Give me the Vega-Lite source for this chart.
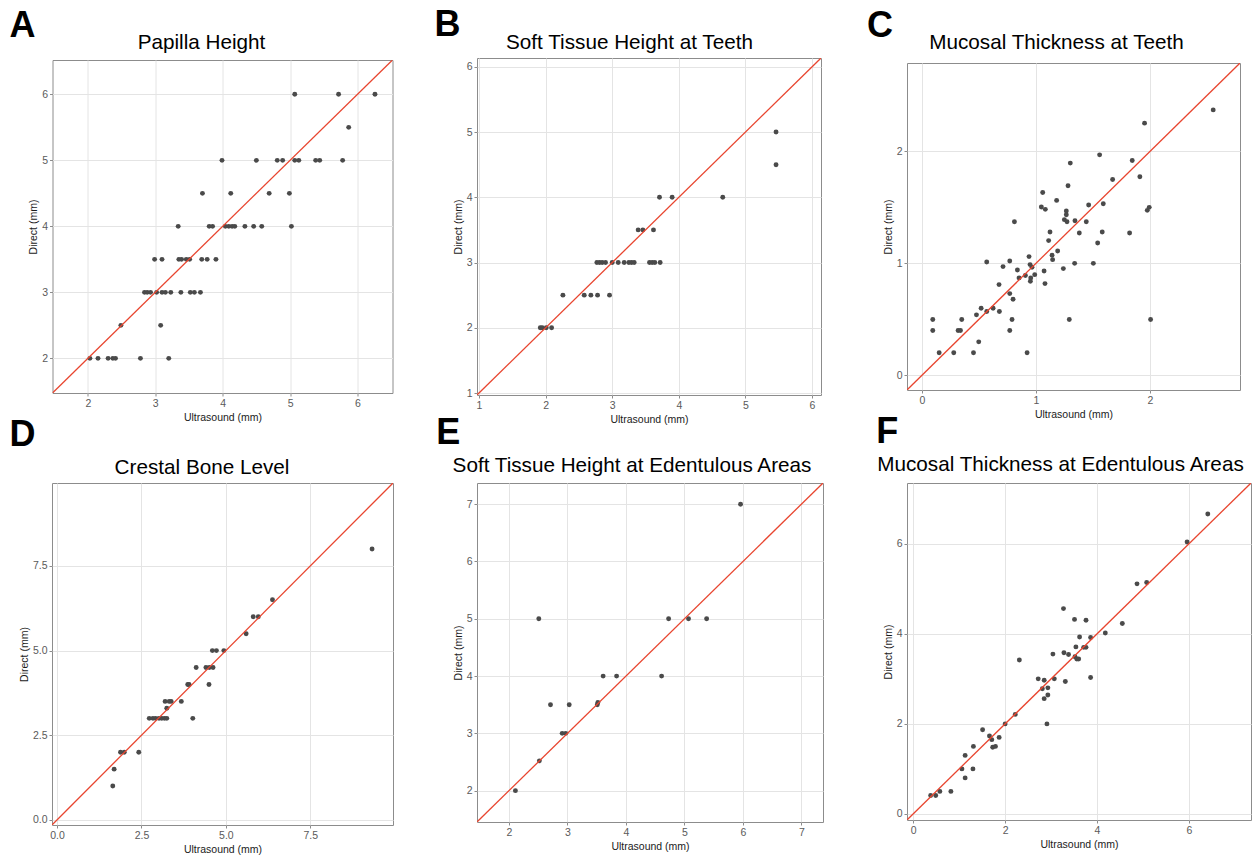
{
  "$schema": "https://vega.github.io/schema/vega-lite/v6.json",
  "padding": {"left": 8, "top": 5, "right": 0, "bottom": 0},
  "background": "white",
  "config": {
    "font": "Liberation Sans",
    "view": {"stroke": "#8c8c8c", "strokeWidth": 1},
    "axis": {"labelFont": "Liberation Sans", "titleFont": "Liberation Sans", "labelFontSize": 10.5, "labelColor": "#5a5a5a", "tickColor": "#8c8c8c", "tickSize": 3, "labelPadding": 2, "titleFontSize": 10.5, "titleFontWeight": "normal", "titleColor": "#1a1a1a", "domain": false, "gridColor": "#e4e4e4", "gridWidth": 1},
    "axisBottom": {"titlePadding": 4},
    "axisLeft": {"titlePadding": 3},
    "axisTop": {"labels": false, "ticks": false, "gridColor": "#ececec", "gridWidth": 0.8, "titleFontSize": 20.7, "titleColor": "#000000", "titleAlign": "center", "titleBaseline": "alphabetic", "titleAngle": 0, "titleFontWeight": "normal"},
    "axisRight": {"labels": false, "ticks": false, "gridColor": "#ececec", "gridWidth": 0.8, "titleFontSize": 36, "titleColor": "#000000", "titleAlign": "left", "titleBaseline": "alphabetic", "titleAngle": 0, "titleFontWeight": "bold"}
  },
  "datasets": {
    "A": [
      {"u": 5.07, "d": 6}, {"u": 5.72, "d": 6}, {"u": 6.26, "d": 6},
      {"u": 5.87, "d": 5.5},
      {"u": 3.99, "d": 5}, {"u": 4.5, "d": 5}, {"u": 4.81, "d": 5}, {"u": 4.89, "d": 5}, {"u": 5.07, "d": 5}, {"u": 5.13, "d": 5}, {"u": 5.38, "d": 5}, {"u": 5.44, "d": 5}, {"u": 5.78, "d": 5},
      {"u": 3.7, "d": 4.5}, {"u": 4.12, "d": 4.5}, {"u": 4.69, "d": 4.5}, {"u": 4.99, "d": 4.5},
      {"u": 3.34, "d": 4}, {"u": 3.8, "d": 4}, {"u": 3.85, "d": 4}, {"u": 4.04, "d": 4}, {"u": 4.09, "d": 4}, {"u": 4.14, "d": 4}, {"u": 4.18, "d": 4}, {"u": 4.33, "d": 4}, {"u": 4.46, "d": 4}, {"u": 4.58, "d": 4}, {"u": 5.02, "d": 4},
      {"u": 2.99, "d": 3.5}, {"u": 3.1, "d": 3.5}, {"u": 3.35, "d": 3.5}, {"u": 3.39, "d": 3.5}, {"u": 3.46, "d": 3.5}, {"u": 3.51, "d": 3.5}, {"u": 3.69, "d": 3.5}, {"u": 3.77, "d": 3.5}, {"u": 3.9, "d": 3.5},
      {"u": 2.84, "d": 3}, {"u": 2.88, "d": 3}, {"u": 2.93, "d": 3}, {"u": 3.02, "d": 3}, {"u": 3.1, "d": 3}, {"u": 3.15, "d": 3}, {"u": 3.23, "d": 3}, {"u": 3.38, "d": 3}, {"u": 3.52, "d": 3}, {"u": 3.58, "d": 3}, {"u": 3.67, "d": 3},
      {"u": 2.49, "d": 2.5}, {"u": 3.08, "d": 2.5},
      {"u": 2.03, "d": 2}, {"u": 2.15, "d": 2}, {"u": 2.3, "d": 2}, {"u": 2.37, "d": 2}, {"u": 2.41, "d": 2}, {"u": 2.78, "d": 2}, {"u": 3.2, "d": 2}
    ],
    "B": [
      {"u": 5.46, "d": 5}, {"u": 5.46, "d": 4.5},
      {"u": 3.71, "d": 4}, {"u": 3.9, "d": 4}, {"u": 4.66, "d": 4},
      {"u": 3.39, "d": 3.5}, {"u": 3.46, "d": 3.5}, {"u": 3.62, "d": 3.5},
      {"u": 2.77, "d": 3}, {"u": 2.81, "d": 3}, {"u": 2.85, "d": 3}, {"u": 2.9, "d": 3}, {"u": 3.0, "d": 3}, {"u": 3.09, "d": 3}, {"u": 3.18, "d": 3}, {"u": 3.25, "d": 3}, {"u": 3.29, "d": 3}, {"u": 3.33, "d": 3}, {"u": 3.56, "d": 3}, {"u": 3.6, "d": 3}, {"u": 3.64, "d": 3}, {"u": 3.72, "d": 3},
      {"u": 2.26, "d": 2.5}, {"u": 2.58, "d": 2.5}, {"u": 2.68, "d": 2.5}, {"u": 2.78, "d": 2.5}, {"u": 2.96, "d": 2.5},
      {"u": 1.92, "d": 2}, {"u": 1.95, "d": 2}, {"u": 2.01, "d": 2}, {"u": 2.09, "d": 2}
    ],
    "C": [
      {"u": 2.555, "d": 2.371}, {"u": 1.953, "d": 2.253}, {"u": 1.559, "d": 1.97}, {"u": 1.302, "d": 1.896}, {"u": 1.845, "d": 1.92},
      {"u": 1.673, "d": 1.75}, {"u": 1.912, "d": 1.774}, {"u": 1.282, "d": 1.694}, {"u": 1.06, "d": 1.634}, {"u": 1.182, "d": 1.563},
      {"u": 1.048, "d": 1.504}, {"u": 1.083, "d": 1.483}, {"u": 1.463, "d": 1.522}, {"u": 1.591, "d": 1.533}, {"u": 1.977, "d": 1.474},
      {"u": 1.994, "d": 1.501}, {"u": 1.267, "d": 1.468}, {"u": 1.267, "d": 1.435}, {"u": 1.25, "d": 1.391}, {"u": 1.273, "d": 1.373},
      {"u": 1.343, "d": 1.382}, {"u": 1.442, "d": 1.373}, {"u": 0.812, "d": 1.373}, {"u": 1.381, "d": 1.272}, {"u": 1.124, "d": 1.281},
      {"u": 1.582, "d": 1.281}, {"u": 1.822, "d": 1.272}, {"u": 1.112, "d": 1.204}, {"u": 1.542, "d": 1.183}, {"u": 1.191, "d": 1.111},
      {"u": 1.142, "d": 1.073}, {"u": 1.147, "d": 1.034}, {"u": 0.569, "d": 1.013}, {"u": 0.771, "d": 1.022}, {"u": 0.94, "d": 1.061},
      {"u": 0.949, "d": 0.99}, {"u": 0.966, "d": 0.966}, {"u": 0.712, "d": 0.972}, {"u": 1.241, "d": 0.954}, {"u": 1.34, "d": 1.001},
      {"u": 1.504, "d": 1.001}, {"u": 0.838, "d": 0.942}, {"u": 1.072, "d": 0.933}, {"u": 0.908, "d": 0.892}, {"u": 0.99, "d": 0.9},
      {"u": 0.955, "d": 0.871}, {"u": 0.853, "d": 0.871}, {"u": 0.952, "d": 0.841}, {"u": 1.08, "d": 0.82}, {"u": 0.677, "d": 0.811},
      {"u": 0.771, "d": 0.731}, {"u": 0.8, "d": 0.681}, {"u": 0.52, "d": 0.6}, {"u": 0.625, "d": 0.6}, {"u": 0.569, "d": 0.571},
      {"u": 0.68, "d": 0.571}, {"u": 0.479, "d": 0.541}, {"u": 0.096, "d": 0.499}, {"u": 0.35, "d": 0.499}, {"u": 0.791, "d": 0.499},
      {"u": 1.293, "d": 0.499}, {"u": 2.006, "d": 0.499}, {"u": 0.096, "d": 0.401}, {"u": 0.318, "d": 0.401}, {"u": 0.339, "d": 0.401},
      {"u": 0.771, "d": 0.401}, {"u": 0.499, "d": 0.3}, {"u": 0.152, "d": 0.202}, {"u": 0.28, "d": 0.202}, {"u": 0.453, "d": 0.202},
      {"u": 0.923, "d": 0.202}
    ],
    "D": [
      {"u": 9.33, "d": 8.0}, {"u": 6.38, "d": 6.5}, {"u": 5.81, "d": 6.0}, {"u": 5.96, "d": 6.0}, {"u": 5.6, "d": 5.5},
      {"u": 4.6, "d": 5.0}, {"u": 4.72, "d": 5.0}, {"u": 4.94, "d": 5.0},
      {"u": 4.12, "d": 4.5}, {"u": 4.41, "d": 4.5}, {"u": 4.51, "d": 4.5}, {"u": 4.62, "d": 4.5},
      {"u": 3.87, "d": 4.0}, {"u": 3.91, "d": 4.0}, {"u": 4.5, "d": 4.0},
      {"u": 3.2, "d": 3.5}, {"u": 3.32, "d": 3.5}, {"u": 3.38, "d": 3.5}, {"u": 3.68, "d": 3.5}, {"u": 3.25, "d": 3.3},
      {"u": 2.73, "d": 3.0}, {"u": 2.84, "d": 3.0}, {"u": 2.92, "d": 3.0}, {"u": 3.02, "d": 3.0}, {"u": 3.1, "d": 3.0}, {"u": 3.18, "d": 3.0}, {"u": 3.25, "d": 3.0}, {"u": 4.02, "d": 3.0},
      {"u": 1.88, "d": 2.0}, {"u": 1.99, "d": 2.0}, {"u": 2.42, "d": 2.0},
      {"u": 1.69, "d": 1.5}, {"u": 1.65, "d": 1.0}
    ],
    "E": [
      {"u": 5.96, "d": 7}, {"u": 2.51, "d": 5}, {"u": 4.73, "d": 5}, {"u": 5.07, "d": 5}, {"u": 5.38, "d": 5},
      {"u": 3.61, "d": 4}, {"u": 3.84, "d": 4}, {"u": 4.61, "d": 4},
      {"u": 2.71, "d": 3.5}, {"u": 3.03, "d": 3.5}, {"u": 3.51, "d": 3.5}, {"u": 3.52, "d": 3.54},
      {"u": 2.91, "d": 3}, {"u": 2.97, "d": 3}, {"u": 2.52, "d": 2.52}, {"u": 2.11, "d": 2}
    ],
    "F": [
      {"u": 6.41, "d": 6.66}, {"u": 5.96, "d": 6.04}, {"u": 4.87, "d": 5.11}, {"u": 5.08, "d": 5.14}, {"u": 3.27, "d": 4.56},
      {"u": 3.51, "d": 4.32}, {"u": 3.76, "d": 4.3}, {"u": 4.55, "d": 4.23}, {"u": 4.18, "d": 4.02}, {"u": 3.62, "d": 3.93},
      {"u": 3.86, "d": 3.92}, {"u": 3.54, "d": 3.71}, {"u": 3.71, "d": 3.7}, {"u": 3.76, "d": 3.7}, {"u": 3.04, "d": 3.55},
      {"u": 3.28, "d": 3.58}, {"u": 3.38, "d": 3.54}, {"u": 3.52, "d": 3.49}, {"u": 3.56, "d": 3.44}, {"u": 3.6, "d": 3.44},
      {"u": 2.31, "d": 3.42}, {"u": 2.72, "d": 3.0}, {"u": 2.85, "d": 2.97}, {"u": 3.07, "d": 3.0}, {"u": 3.86, "d": 3.03},
      {"u": 3.31, "d": 2.94}, {"u": 2.81, "d": 2.78}, {"u": 2.93, "d": 2.8}, {"u": 2.93, "d": 2.64}, {"u": 2.85, "d": 2.56},
      {"u": 2.91, "d": 2.0}, {"u": 2.0, "d": 2.0}, {"u": 2.22, "d": 2.21}, {"u": 1.51, "d": 1.87}, {"u": 1.66, "d": 1.73},
      {"u": 1.71, "d": 1.65}, {"u": 1.87, "d": 1.7}, {"u": 1.73, "d": 1.48}, {"u": 1.79, "d": 1.5}, {"u": 1.31, "d": 1.5},
      {"u": 1.13, "d": 1.3}, {"u": 1.06, "d": 1.0}, {"u": 1.3, "d": 1.0}, {"u": 1.13, "d": 0.8}, {"u": 0.82, "d": 0.5},
      {"u": 0.58, "d": 0.5}, {"u": 0.38, "d": 0.41}, {"u": 0.49, "d": 0.41}
    ]
  },
  "columns": 3,
  "align": "each",
  "center": true,
  "bounds": "flush",
  "spacing": {"row": 88, "column": 84},
  "concat": [
    {
      "width": 340, "height": 333,
      "layer": [
        {"data": {"name": "A"}, "mark": {"type": "circle", "size": 24, "color": "#4a4a4a", "opacity": 1},
         "encoding": {
           "x": {"field": "u", "type": "quantitative", "scale": {"domain": [1.475, 6.52], "nice": false, "zero": false}, "axis": {"orient": "bottom", "values": [2, 3, 4, 5, 6], "title": "Ultrasound (mm)"}},
           "y": {"field": "d", "type": "quantitative", "scale": {"domain": [1.475, 6.52], "nice": false, "zero": false}, "axis": {"orient": "left", "values": [2, 3, 4, 5, 6], "title": "Direct (mm)"}}}},
        {"data": {"values": [{"u": 1.475, "d": 1.475}, {"u": 6.52, "d": 6.52}]}, "mark": {"type": "line", "color": "#e8452f", "strokeWidth": 1.3, "clip": true},
         "encoding": {
           "x": {"field": "u", "type": "quantitative", "axis": {"orient": "top", "values": [1.5, 2.5, 3.5, 4.5, 5.5, 6.5], "title": "Papilla Height", "titleX": 148.5, "titleY": -11.7}},
           "y": {"field": "d", "type": "quantitative", "axis": {"orient": "right", "values": [1.5, 2.5, 3.5, 4.5, 5.5, 6.5], "title": "A", "titleX": -383.5, "titleY": -23.3}}}}
      ],
      "resolve": {"axis": {"x": "independent", "y": "independent"}}
    },
    {
      "width": 344, "height": 337,
      "layer": [
        {"data": {"name": "B"}, "mark": {"type": "circle", "size": 24, "color": "#4a4a4a", "opacity": 1},
         "encoding": {
           "x": {"field": "u", "type": "quantitative", "scale": {"domain": [0.97, 6.135], "nice": false, "zero": false}, "axis": {"orient": "bottom", "values": [1, 2, 3, 4, 5, 6], "title": "Ultrasound (mm)"}},
           "y": {"field": "d", "type": "quantitative", "scale": {"domain": [0.97, 6.135], "nice": false, "zero": false}, "axis": {"orient": "left", "values": [1, 2, 3, 4, 5, 6], "title": "Direct (mm)"}}}},
        {"data": {"values": [{"u": 0.97, "d": 0.97}, {"u": 6.135, "d": 6.135}]}, "mark": {"type": "line", "color": "#e8452f", "strokeWidth": 1.3, "clip": true},
         "encoding": {
           "x": {"field": "u", "type": "quantitative", "axis": {"orient": "top", "values": [1.5, 2.5, 3.5, 4.5, 5.5], "title": "Soft Tissue Height at Teeth", "titleX": 152, "titleY": -9.7}},
           "y": {"field": "d", "type": "quantitative", "axis": {"orient": "right", "values": [1.5, 2.5, 3.5, 4.5, 5.5], "title": "B", "titleX": -387, "titleY": -23}}}}
      ],
      "resolve": {"axis": {"x": "independent", "y": "independent"}}
    },
    {
      "width": 333, "height": 327,
      "layer": [
        {"data": {"name": "C"}, "mark": {"type": "circle", "size": 24, "color": "#4a4a4a", "opacity": 1},
         "encoding": {
           "x": {"field": "u", "type": "quantitative", "scale": {"domain": [-0.13, 2.79], "nice": false, "zero": false}, "axis": {"orient": "bottom", "values": [0, 1, 2], "title": "Ultrasound (mm)"}},
           "y": {"field": "d", "type": "quantitative", "scale": {"domain": [-0.13, 2.79], "nice": false, "zero": false}, "axis": {"orient": "left", "values": [0, 1, 2], "title": "Direct (mm)"}}}},
        {"data": {"values": [{"u": -0.13, "d": -0.13}, {"u": 2.79, "d": 2.79}]}, "mark": {"type": "line", "color": "#e8452f", "strokeWidth": 1.3, "clip": true},
         "encoding": {
           "x": {"field": "u", "type": "quantitative", "axis": {"orient": "top", "values": [0.5, 1.5, 2.5], "title": "Mucosal Thickness at Teeth", "titleX": 149, "titleY": -14.7}},
           "y": {"field": "d", "type": "quantitative", "axis": {"orient": "right", "values": [0.5, 1.5, 2.5], "title": "C", "titleX": -373.5, "titleY": -26.3}}}}
      ],
      "resolve": {"axis": {"x": "independent", "y": "independent"}}
    },
    {
      "width": 341, "height": 342,
      "layer": [
        {"data": {"name": "D"}, "mark": {"type": "circle", "size": 24, "color": "#4a4a4a", "opacity": 1},
         "encoding": {
           "x": {"field": "u", "type": "quantitative", "scale": {"domain": [-0.15, 9.95], "nice": false, "zero": false}, "axis": {"orient": "bottom", "values": [0, 2.5, 5, 7.5], "format": ".1f", "title": "Ultrasound (mm)"}},
           "y": {"field": "d", "type": "quantitative", "scale": {"domain": [-0.15, 9.95], "nice": false, "zero": false}, "axis": {"orient": "left", "values": [0, 2.5, 5, 7.5], "format": ".1f", "title": "Direct (mm)"}}}},
        {"data": {"values": [{"u": -0.15, "d": -0.15}, {"u": 9.95, "d": 9.95}]}, "mark": {"type": "line", "color": "#e8452f", "strokeWidth": 1.3, "clip": true},
         "encoding": {
           "x": {"field": "u", "type": "quantitative", "axis": {"orient": "top", "values": [1.25, 3.75, 6.25, 8.75], "title": "Crestal Bone Level", "titleX": 149.5, "titleY": -9.7}},
           "y": {"field": "d", "type": "quantitative", "axis": {"orient": "right", "values": [1.25, 3.75, 6.25, 8.75], "title": "D", "titleX": -384, "titleY": -38}}}}
      ],
      "resolve": {"axis": {"x": "independent", "y": "independent"}}
    },
    {
      "width": 346, "height": 339,
      "layer": [
        {"data": {"name": "E"}, "mark": {"type": "circle", "size": 24, "color": "#4a4a4a", "opacity": 1},
         "encoding": {
           "x": {"field": "u", "type": "quantitative", "scale": {"domain": [1.453, 7.37], "nice": false, "zero": false}, "axis": {"orient": "bottom", "values": [2, 3, 4, 5, 6, 7], "title": "Ultrasound (mm)"}},
           "y": {"field": "d", "type": "quantitative", "scale": {"domain": [1.453, 7.37], "nice": false, "zero": false}, "axis": {"orient": "left", "values": [2, 3, 4, 5, 6, 7], "title": "Direct (mm)"}}}},
        {"data": {"values": [{"u": 1.453, "d": 1.453}, {"u": 7.37, "d": 7.37}]}, "mark": {"type": "line", "color": "#e8452f", "strokeWidth": 1.3, "clip": true},
         "encoding": {
           "x": {"field": "u", "type": "quantitative", "axis": {"orient": "top", "values": [1.5, 2.5, 3.5, 4.5, 5.5, 6.5], "title": "Soft Tissue Height at Edentulous Areas", "titleX": 154.5, "titleY": -11.2}},
           "y": {"field": "d", "type": "quantitative", "axis": {"orient": "right", "values": [1.5, 2.5, 3.5, 4.5, 5.5, 6.5], "title": "E", "titleX": -387.3, "titleY": -39.5}}}}
      ],
      "resolve": {"axis": {"x": "independent", "y": "independent"}}
    },
    {
      "width": 344, "height": 337,
      "layer": [
        {"data": {"name": "F"}, "mark": {"type": "circle", "size": 24, "color": "#4a4a4a", "opacity": 1},
         "encoding": {
           "x": {"field": "u", "type": "quantitative", "scale": {"domain": [-0.135, 7.35], "nice": false, "zero": false}, "axis": {"orient": "bottom", "values": [0, 2, 4, 6], "title": "Ultrasound (mm)"}},
           "y": {"field": "d", "type": "quantitative", "scale": {"domain": [-0.135, 7.35], "nice": false, "zero": false}, "axis": {"orient": "left", "values": [0, 2, 4, 6], "title": "Direct (mm)"}}}},
        {"data": {"values": [{"u": -0.135, "d": -0.135}, {"u": 7.35, "d": 7.35}]}, "mark": {"type": "line", "color": "#e8452f", "strokeWidth": 1.3, "clip": true},
         "encoding": {
           "x": {"field": "u", "type": "quantitative", "axis": {"orient": "top", "values": [1, 3, 5, 7], "title": "Mucosal Thickness at Edentulous Areas", "titleX": 153, "titleY": -12.2}},
           "y": {"field": "d", "type": "quantitative", "axis": {"orient": "right", "values": [1, 3, 5, 7], "title": "F", "titleX": -375.3, "titleY": -40.5}}}}
      ],
      "resolve": {"axis": {"x": "independent", "y": "independent"}}
    }
  ]
}
